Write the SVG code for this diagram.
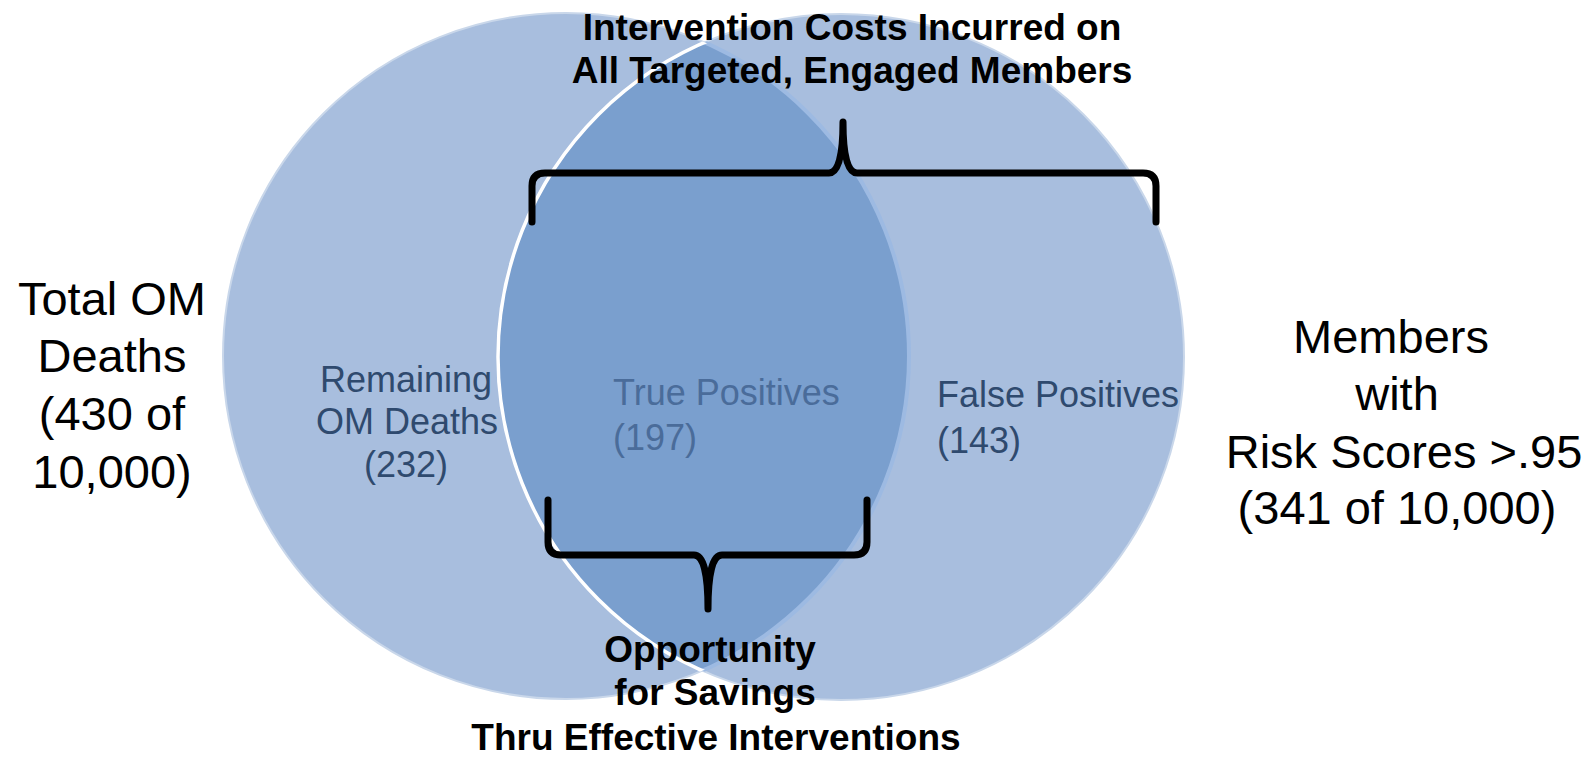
<svg xmlns="http://www.w3.org/2000/svg" width="1595" height="757" viewBox="0 0 1595 757">
<style>
.set{fill:#a8bede;}
.lens{fill:#7a9fce;}
.big{font-family:"Liberation Sans",Arial,sans-serif;font-size:47px;fill:#000;text-anchor:middle;}
.inner{font-family:"Liberation Sans",Arial,sans-serif;font-size:36px;fill:#2f4a6e;}
.innerTP{font-family:"Liberation Sans",Arial,sans-serif;font-size:36px;fill:#4a6c9a;}
.bold{font-family:"Liberation Sans",Arial,sans-serif;font-size:37px;font-weight:bold;fill:#000;text-anchor:middle;}
.brace{fill:none;stroke:#000;stroke-width:7;stroke-linecap:round;stroke-linejoin:round;}
</style>
<defs>
<clipPath id="clipLeft"><circle cx="566" cy="356" r="343"/></clipPath>
<clipPath id="clipRight"><circle cx="841" cy="357" r="343"/></clipPath>
</defs>
<rect width="1595" height="757" fill="#fff"/>
<g id="set-left">
<circle class="set" cx="566" cy="356" r="343" stroke="#c9d7ea" stroke-width="2"/>
</g>
<g id="set-right">
<circle class="set" cx="841" cy="357" r="343" stroke="#c9d7ea" stroke-width="2"/>
</g>
<g id="intersection">
<circle class="lens" cx="841" cy="357" r="343" clip-path="url(#clipLeft)"/>
<circle cx="566" cy="356" r="343" fill="none" stroke="#9dbae2" stroke-width="4" clip-path="url(#clipRight)"/>
<circle cx="841" cy="357" r="343" fill="none" stroke="#ffffff" stroke-width="3.5" clip-path="url(#clipLeft)"/>
</g>
<g id="label-left">
<text class="big" x="112" y="315">Total OM</text>
<text class="big" x="112" y="372">Deaths</text>
<text class="big" x="112" y="430">(430 of</text>
<text class="big" x="112" y="488">10,000)</text>
</g>
<g id="label-right">
<text class="big" x="1391" y="353">Members</text>
<text class="big" x="1397" y="410">with</text>
<text class="big" x="1404" y="468">Risk Scores &gt;.95</text>
<text class="big" x="1397" y="524">(341 of 10,000)</text>
</g>
<g id="region-remaining">
<text class="inner" x="406" y="392" text-anchor="middle">Remaining</text>
<text class="inner" x="407" y="434" text-anchor="middle">OM Deaths</text>
<text class="inner" x="406" y="477" text-anchor="middle">(232)</text>
</g>
<g id="region-true">
<text class="innerTP" x="613" y="405">True Positives</text>
<text class="innerTP" x="613" y="450">(197)</text>
</g>
<g id="region-false">
<text class="inner" x="937" y="407">False Positives</text>
<text class="inner" x="937" y="453">(143)</text>
</g>
<g id="connectors">
<path class="brace" d="M532,222 V186 Q532,173 545,173 H829 Q843,173 843,122 Q843,173 857,173 H1143 Q1156,173 1156,186 V222"/>
<path class="brace" d="M548,500 V542 Q548,555 561,555 H694 Q708,555 708,609 Q708,555 722,555 H854 Q867,555 867,542 V500"/>
</g>
<g id="label-costs">
<text class="bold" x="852" y="40">Intervention Costs Incurred on</text>
<text class="bold" x="852" y="83">All Targeted, Engaged Members</text>
</g>
<g id="label-savings">
<text class="bold" x="710" y="662">Opportunity</text>
<text class="bold" x="715" y="705">for Savings</text>
<text class="bold" x="716" y="750">Thru Effective Interventions</text>
</g>
</svg>
